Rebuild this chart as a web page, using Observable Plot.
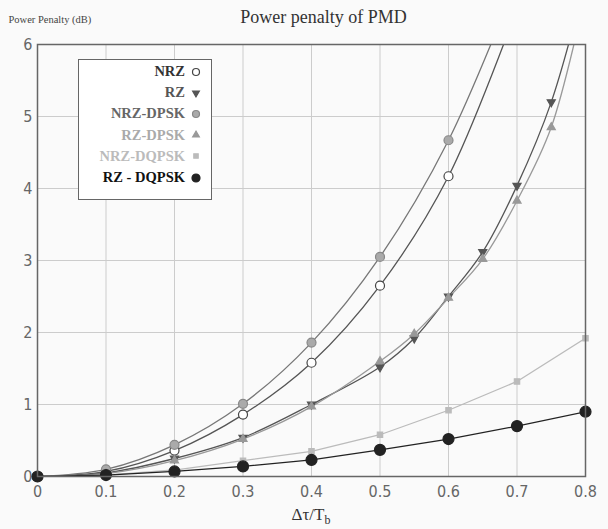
<!DOCTYPE html>
<html><head><meta charset="utf-8">
<script src="https://cdn.jsdelivr.net/npm/d3@7"></script>
<script src="https://cdn.jsdelivr.net/npm/@observablehq/plot@0.6"></script>
<style>
body{margin:0;background:#fafafa;}
#wrap{position:relative;width:608px;height:529px;}
#legend{position:absolute;left:78px;top:59px;width:134px;height:141px;border:1px solid #666;background:#fff;box-sizing:border-box;font-family:"Liberation Serif",serif;font-weight:bold;font-size:14.5px;}
#legend .row{position:absolute;right:8px;display:flex;align-items:center;gap:4px;white-space:nowrap;}
</style></head>
<body><div id="wrap"></div>
<script>
const xTicks = [0,0.1,0.2,0.3,0.4,0.5,0.6,0.7,0.8];
const yTicks = [0,1,2,3,4,5,6];

const nrzX   = [0,0.1,0.2,0.3,0.4,0.5,0.6,0.7];
const nrzY   = [0,0.07,0.36,0.86,1.58,2.65,4.17,6.5];
const nrzdX  = [0,0.1,0.2,0.3,0.4,0.5,0.6,0.7];
const nrzdY  = [0,0.1,0.44,1.01,1.86,3.05,4.67,6.9];
const rzX    = [0,0.1,0.2,0.3,0.4,0.5,0.55,0.6,0.65,0.7,0.75,0.8];
const rzY    = [0,0.05,0.25,0.54,1.0,1.52,1.92,2.5,3.12,4.04,5.2,6.9];
const rzdX   = [0,0.1,0.2,0.3,0.4,0.5,0.55,0.6,0.65,0.7,0.75,0.8];
const rzdY   = [0,0.04,0.22,0.52,0.97,1.6,1.98,2.48,3.02,3.83,4.85,6.7];
const nrzqX  = [0,0.1,0.2,0.3,0.4,0.5,0.6,0.7,0.8];
const nrzqY  = [0,0.02,0.09,0.22,0.35,0.58,0.92,1.32,1.92];
const rzqX   = [0,0.1,0.2,0.3,0.4,0.5,0.6,0.7,0.8];
const rzqY   = [0,0.02,0.07,0.14,0.23,0.37,0.52,0.7,0.9];

const series = [
  {name:"NRZ",       xs:nrzX,  ys:nrzY,  line:"#555", symbol:"circle",   fill:"#fff", stroke:"#444", r:4.5, lr:3.5, rot:0,   curve:"catmull-rom", text:"#333"},
  {name:"RZ",        xs:rzX,   ys:rzY,   line:"#555", symbol:"triangle", fill:"#555", stroke:"#555", r:3,   lr:2.5, rot:180, curve:"catmull-rom", text:"#555"},
  {name:"NRZ-DPSK",  xs:nrzdX, ys:nrzdY, line:"#777", symbol:"circle",   fill:"#aaa", stroke:"#888", r:4.5, lr:3.5, rot:0,   curve:"catmull-rom", text:"#666"},
  {name:"RZ-DPSK",   xs:rzdX,  ys:rzdY,  line:"#999", symbol:"triangle", fill:"#999", stroke:"#999", r:3,   lr:2.5, rot:0,   curve:"catmull-rom", text:"#aaa"},
  {name:"NRZ-DQPSK", xs:nrzqX, ys:nrzqY, line:"#bbb", symbol:"square",   fill:"#bbb", stroke:"#bbb", r:3,   lr:2.5, rot:0,   curve:"linear",      text:"#bbb"},
  {name:"RZ - DQPSK",xs:rzqX,  ys:rzqY,  line:"#222", symbol:"circle",   fill:"#222", stroke:"#222", r:5.5, lr:4,   rot:0,   curve:"linear",      text:"#111"}
];

const marks = [
  Plot.ruleX(xTicks, {stroke:"#ccc", strokeWidth:1}),
  Plot.ruleY(yTicks, {stroke:"#ccc", strokeWidth:1}),
];
for (const s of series) {
  const data = s.xs.map((x,i)=>({x, y:s.ys[i]}));
  marks.push(Plot.line(data, {x:"x", y:"y", stroke:s.line, strokeWidth:1.3, curve:s.curve, clip:"frame"}));
}
for (const s of series) {
  const data = s.xs.map((x,i)=>({x, y:s.ys[i]})).filter(d=>d.y<=6);
  marks.push(Plot.dot(data, {x:"x", y:"y", symbol:()=>s.symbol, r:s.r, fill:s.fill, stroke:s.stroke, strokeWidth:1.2, rotate:s.rot}));
}
marks.push(Plot.frame({stroke:"#666", strokeWidth:1.5}));
marks.push(Plot.text(["Power penalty of PMD"], {frameAnchor:"top", dy:-34, dx:12, fontFamily:"Liberation Serif", fontSize:18, fill:"#333"}));
marks.push(Plot.text(["Power Penalty (dB)"], {frameAnchor:"top-left", dx:-29, dy:-29, textAnchor:"start", fontFamily:"Liberation Serif", fontSize:10.5, fill:"#444"}));

const plot = Plot.plot({
  width:608, height:529,
  marginLeft:37, marginRight:23, marginTop:44, marginBottom:53,
  style:{background:"transparent", fontFamily:"'Liberation Sans Narrow','DejaVu Sans Condensed',sans-serif", fontSize:"16px", color:"#666"},
  x:{domain:[0,0.8], ticks:xTicks, tickFormat:d=>d===0?"0":d3.format(".1f")(d), tickSize:0, tickPadding:9, label:null},
  y:{domain:[0,6], ticks:yTicks, tickFormat:d=>String(d), tickSize:0, tickPadding:5, label:null},
  symbol:{type:"identity"},
  marks
});
const wrap = document.getElementById("wrap");
wrap.appendChild(plot);

// x label with subscript
const ns = "http://www.w3.org/2000/svg";
const xl = document.createElementNS(ns,"text");
xl.setAttribute("x", 311); xl.setAttribute("y", 520);
xl.setAttribute("text-anchor","middle");
xl.setAttribute("font-family","Liberation Serif");
xl.setAttribute("font-size","17"); xl.setAttribute("fill","#333");
xl.innerHTML = 'Δτ/T<tspan font-size="12" dy="4">b</tspan>';
plot.appendChild(xl);

// legend
const leg = document.createElement("div");
leg.id = "legend";
series.forEach((s,i)=>{
  const row = document.createElement("div");
  row.className = "row";
  row.style.top = (3 + i*21.2) + "px";
  row.style.color = s.text;
  const sym = d3.symbol(s.symbol==="circle"?d3.symbolCircle:s.symbol==="square"?d3.symbolSquare:d3.symbolTriangle, Math.PI*s.lr*s.lr)();
  row.innerHTML = `<span>${s.name}</span><svg width="14" height="14" viewBox="-7 -7 14 14"><path d="${sym}" fill="${s.fill}" stroke="${s.stroke}" stroke-width="1.2" transform="rotate(${s.rot})"/></svg>`;
  leg.appendChild(row);
});
wrap.appendChild(leg);
</script></body></html>
